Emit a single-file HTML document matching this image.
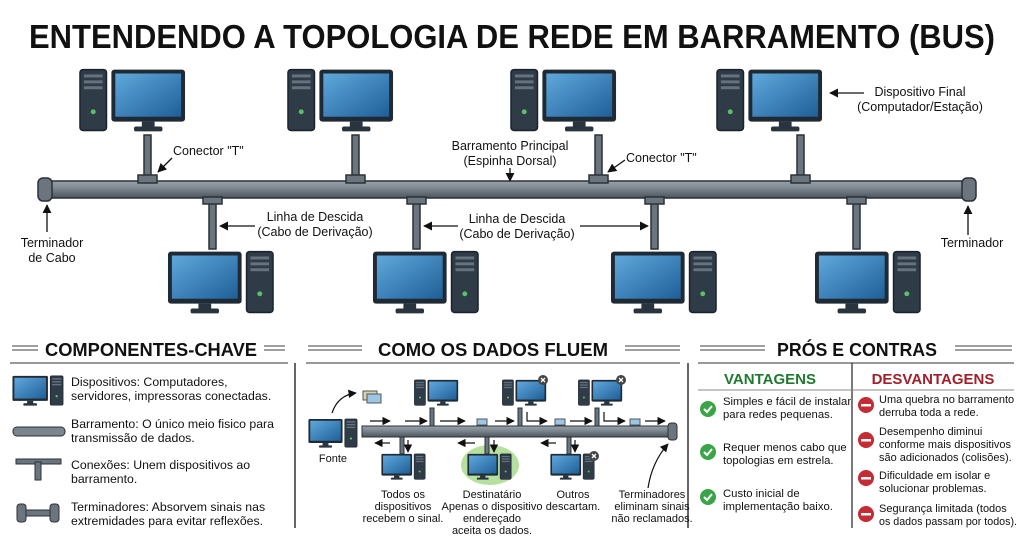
<!DOCTYPE html>
<html><head><meta charset="utf-8"><style>
html,body{margin:0;padding:0;background:#fff;}
svg{display:block;font-family:"Liberation Sans",sans-serif;}
</style></head><body>
<svg width="1024" height="540" viewBox="0 0 1024 540" xmlns="http://www.w3.org/2000/svg">
<defs>
<linearGradient id="scr" x1="0" y1="0" x2="1" y2="1"><stop offset="0" stop-color="#5fa8dc"/><stop offset="1" stop-color="#1f5f98"/></linearGradient>
<linearGradient id="bus" x1="0" y1="0" x2="0" y2="1"><stop offset="0" stop-color="#9aa3ab"/><stop offset=".45" stop-color="#7b858e"/><stop offset="1" stop-color="#4c545c"/></linearGradient>
<symbol id="pcL" viewBox="0 0 110 66">
<rect x="1" y="1" width="27" height="62" rx="3" fill="#2f3b47" stroke="#1a232c" stroke-width="1.5"/>
<rect x="5" y="6" width="19" height="3" fill="#66737f"/><rect x="5" y="12" width="19" height="3" fill="#66737f"/><rect x="5" y="18" width="19" height="3" fill="#66737f"/>
<circle cx="14.5" cy="44" r="2.5" fill="#5cbf6a"/>
<rect x="33" y="1" width="75" height="53" rx="3" fill="#1f2a35"/>
<rect x="37" y="5" width="67" height="44" fill="url(#scr)"/>
<rect x="64" y="54" width="13" height="6" fill="#2a343e"/><rect x="56" y="59" width="29" height="5" rx="2" fill="#2a343e"/>
</symbol>
<symbol id="pcR" viewBox="0 0 110 66">
<rect x="81" y="1" width="27" height="62" rx="3" fill="#2f3b47" stroke="#1a232c" stroke-width="1.5"/>
<rect x="85" y="6" width="19" height="3" fill="#66737f"/><rect x="85" y="12" width="19" height="3" fill="#66737f"/><rect x="85" y="18" width="19" height="3" fill="#66737f"/>
<circle cx="94.5" cy="44" r="2.5" fill="#5cbf6a"/>
<rect x="1" y="1" width="75" height="53" rx="3" fill="#1f2a35"/>
<rect x="5" y="5" width="67" height="44" fill="url(#scr)"/>
<rect x="32" y="54" width="13" height="6" fill="#2a343e"/><rect x="24" y="59" width="29" height="5" rx="2" fill="#2a343e"/>
</symbol>
<marker id="ar" viewBox="0 0 10 10" refX="9" refY="5" markerWidth="7" markerHeight="7" orient="auto"><path d="M0,0L10,5L0,10z" fill="#111"/></marker>
</defs>

<text x="512" y="48" text-anchor="middle" font-size="33" font-weight="bold" fill="#111" textLength="966" lengthAdjust="spacingAndGlyphs">ENTENDENDO A TOPOLOGIA DE REDE EM BARRAMENTO (BUS)</text>

<g fill="#6c757e" stroke="#2a3138" stroke-width="1.5">
<rect x="144" y="135" width="7" height="45"/>
<rect x="352" y="135" width="7" height="45"/>
<rect x="595" y="135" width="7" height="45"/>
<rect x="797" y="135" width="7" height="45"/>
<rect x="209" y="199" width="7" height="50"/>
<rect x="413" y="199" width="7" height="50"/>
<rect x="651" y="199" width="7" height="50"/>
<rect x="853" y="199" width="7" height="50"/>
</g>
<rect x="48" y="181" width="920" height="17" fill="url(#bus)" stroke="#2a3138" stroke-width="1.5"/>
<rect x="38" y="178" width="14" height="23" rx="5" fill="#6c757e" stroke="#2a3138" stroke-width="1.5"/>
<rect x="962" y="178" width="14" height="23" rx="5" fill="#6c757e" stroke="#2a3138" stroke-width="1.5"/>
<g fill="#6c757e" stroke="#2a3138" stroke-width="1.5">
<rect x="138" y="175" width="19" height="8"/><rect x="346" y="175" width="19" height="8"/><rect x="589" y="175" width="19" height="8"/><rect x="791" y="175" width="19" height="8"/>
<rect x="203" y="197" width="19" height="7"/><rect x="407" y="197" width="19" height="7"/><rect x="645" y="197" width="19" height="7"/><rect x="847" y="197" width="19" height="7"/>
</g>
<use href="#pcL" x="79" y="68" width="108" height="66"/>
<use href="#pcL" x="287" y="68" width="108" height="66"/>
<use href="#pcL" x="510" y="68" width="108" height="66"/>
<use href="#pcL" x="716" y="68" width="108" height="66"/>
<use href="#pcR" x="167" y="250" width="108" height="66"/>
<use href="#pcR" x="372" y="250" width="108" height="66"/>
<use href="#pcR" x="610" y="250" width="108" height="66"/>
<use href="#pcR" x="814" y="250" width="108" height="66"/>

<g font-size="12.5" fill="#111">
<text x="173" y="155">Conector "T"</text>
<text x="626" y="162">Conector "T"</text>
<text x="510" y="150" text-anchor="middle">Barramento Principal</text>
<text x="510" y="165" text-anchor="middle">(Espinha Dorsal)</text>
<text x="315" y="221" text-anchor="middle">Linha de Descida</text>
<text x="315" y="236" text-anchor="middle">(Cabo de Derivação)</text>
<text x="517" y="223" text-anchor="middle">Linha de Descida</text>
<text x="517" y="238" text-anchor="middle">(Cabo de Derivação)</text>
<text x="920" y="96" text-anchor="middle">Dispositivo Final</text>
<text x="920" y="111" text-anchor="middle">(Computador/Estação)</text>
<text x="52" y="247" text-anchor="middle">Terminador</text>
<text x="52" y="262" text-anchor="middle">de Cabo</text>
<text x="972" y="247" text-anchor="middle">Terminador</text>
</g>
<g stroke="#111" stroke-width="1.3" fill="none" marker-end="url(#ar)">
<line x1="172" y1="158" x2="158" y2="172"/>
<line x1="625" y1="160" x2="608" y2="172"/>
<line x1="510" y1="168" x2="510" y2="181"/>
<line x1="255" y1="226" x2="220" y2="226"/>
<line x1="458" y1="226" x2="424" y2="226"/>
<line x1="580" y1="226" x2="648" y2="226"/>
<line x1="864" y1="93" x2="830" y2="93"/>
<line x1="47" y1="232" x2="47" y2="205"/>
<line x1="968" y1="235" x2="968" y2="206"/>
</g>

<g font-weight="bold" fill="#111">
<text x="151" y="356" text-anchor="middle" font-size="18" textLength="212" lengthAdjust="spacingAndGlyphs">COMPONENTES-CHAVE</text>
<text x="493" y="356" text-anchor="middle" font-size="18" textLength="230" lengthAdjust="spacingAndGlyphs">COMO OS DADOS FLUEM</text>
<text x="857" y="356" text-anchor="middle" font-size="18" textLength="160" lengthAdjust="spacingAndGlyphs">PRÓS E CONTRAS</text>
</g>
<g stroke="#666" stroke-width="1.2">
<line x1="12" y1="346" x2="38" y2="346"/><line x1="12" y1="350" x2="38" y2="350"/>
<line x1="264" y1="346" x2="285" y2="346"/><line x1="264" y1="350" x2="285" y2="350"/>
<line x1="308" y1="346" x2="362" y2="346"/><line x1="308" y1="350" x2="362" y2="350"/>
<line x1="625" y1="346" x2="680" y2="346"/><line x1="625" y1="350" x2="680" y2="350"/>
<line x1="700" y1="346" x2="765" y2="346"/><line x1="700" y1="350" x2="765" y2="350"/>
<line x1="955" y1="346" x2="1012" y2="346"/><line x1="955" y1="350" x2="1012" y2="350"/>
</g>
<g stroke="#777" stroke-width="1.5">
<line x1="10" y1="363" x2="288" y2="363"/>
<line x1="306" y1="363" x2="680" y2="363"/>
<line x1="698" y1="363" x2="1014" y2="363"/>
</g>
<line x1="295" y1="363" x2="295" y2="528" stroke="#333" stroke-width="1.5"/>
<line x1="688" y1="363" x2="688" y2="528" stroke="#333" stroke-width="1.5"/>
<line x1="852" y1="363" x2="852" y2="528" stroke="#333" stroke-width="1.3"/>

<use href="#pcR" x="12" y="375" width="52" height="32"/>
<rect x="13" y="427" width="52" height="9" rx="4" fill="#7b858e" stroke="#2a3138"/>
<g fill="#6c757e" stroke="#2a3138"><rect x="16" y="459" width="45" height="5"/><rect x="35" y="462" width="6" height="18"/></g>
<g fill="#6c757e" stroke="#2a3138"><rect x="17" y="504" width="9" height="18" rx="3"/><rect x="26" y="510" width="24" height="6"/><rect x="50" y="504" width="9" height="18" rx="3"/></g>
<g font-size="12.3" fill="#111">
<text x="71" y="386">Dispositivos: Computadores,</text>
<text x="71" y="400">servidores, impressoras conectadas.</text>
<text x="71" y="428">Barramento: O único meio fisico para</text>
<text x="71" y="442">transmissão de dados.</text>
<text x="71" y="469">Conexões: Unem dispositivos ao</text>
<text x="71" y="483">barramento.</text>
<text x="71" y="511">Terminadores: Absorvem sinais nas</text>
<text x="71" y="525">extremidades para evitar reflexões.</text>
</g>

<ellipse cx="490" cy="465" rx="29" ry="20" fill="#b6e0a0"/>
<g fill="#6c757e" stroke="#2a3138">
<rect x="430" y="408" width="4" height="20"/><rect x="518" y="408" width="4" height="20"/><rect x="595" y="408" width="4" height="20"/>
<rect x="400" y="436" width="4" height="18"/><rect x="485" y="436" width="4" height="18"/><rect x="567" y="436" width="4" height="18"/>
</g>
<rect x="362" y="426" width="310" height="11" fill="url(#bus)" stroke="#2a3138"/>
<rect x="668" y="423" width="9" height="17" rx="3" fill="#6c757e" stroke="#2a3138"/>
<use href="#pcL" x="414" y="379" width="45" height="28"/>
<use href="#pcL" x="502" y="379" width="45" height="28"/>
<use href="#pcL" x="578" y="379" width="45" height="28"/>
<use href="#pcR" x="308" y="418" width="50" height="31"/>
<use href="#pcR" x="381" y="453" width="45" height="28"/>
<use href="#pcR" x="467" y="453" width="45" height="28"/>
<use href="#pcR" x="550" y="453" width="45" height="28"/>
<g fill="#444"><circle cx="543" cy="380" r="5"/><circle cx="621" cy="380" r="5"/><circle cx="594" cy="456" r="5"/></g>
<g stroke="#fff" stroke-width="1.3"><path d="M541,378l4,4M545,378l-4,4M619,378l4,4M623,378l-4,4M592,454l4,4M596,454l-4,4"/></g>
<rect x="363" y="391" width="14" height="9" fill="#d8d0b0" stroke="#555"/><rect x="367" y="394" width="14" height="9" fill="#9cc6e6" stroke="#555"/>
<g fill="#9cc6e6" stroke="#555"><rect x="477" y="419" width="10" height="6"/><rect x="555" y="419" width="10" height="6"/><rect x="630" y="419" width="10" height="6"/></g>
<g stroke="#111" stroke-width="1.2" marker-end="url(#ar)" fill="none">
<path d="M332,413 Q338,395 356,393"/>
<line x1="370" y1="421" x2="390" y2="421"/><line x1="405" y1="421" x2="427" y2="421"/><line x1="440" y1="421" x2="465" y2="421"/><line x1="495" y1="421" x2="514" y2="421"/>
<path d="M527,412V421H547"/><line x1="570" y1="421" x2="592" y2="421"/><path d="M604,412V421H625"/><line x1="645" y1="421" x2="665" y2="421"/>
<line x1="390" y1="443" x2="375" y2="443"/><line x1="475" y1="443" x2="458" y2="443"/><line x1="556" y1="443" x2="541" y2="443"/>
<line x1="408" y1="440" x2="408" y2="452"/><line x1="494" y1="440" x2="494" y2="452"/><line x1="575" y1="440" x2="575" y2="452"/>
<path d="M648,488 Q652,462 668,444"/>
</g>
<g font-size="11" fill="#111" text-anchor="middle">
<text x="333" y="462">Fonte</text>
<text x="403" y="498">Todos os</text><text x="403" y="510">dispositivos</text><text x="403" y="522">recebem o sinal.</text>
<text x="492" y="498">Destinatário</text><text x="492" y="510">Apenas o dispositivo</text><text x="492" y="522">endereçado</text><text x="492" y="534">aceita os dados.</text>
<text x="573" y="498">Outros</text><text x="573" y="510">descartam.</text>
<text x="652" y="498">Terminadores</text><text x="652" y="510">eliminam sinais</text><text x="652" y="522">não reclamados.</text>
</g>

<text x="770" y="384" text-anchor="middle" font-size="15" font-weight="bold" fill="#1e7a2e">VANTAGENS</text>
<text x="933" y="384" text-anchor="middle" font-size="15" font-weight="bold" fill="#a3202a">DESVANTAGENS</text>
<line x1="698" y1="390" x2="1014" y2="390" stroke="#888"/>
<g fill="#3aa548"><circle cx="708" cy="409" r="8"/><circle cx="708" cy="452" r="8"/><circle cx="708" cy="497" r="8"/></g>
<g stroke="#fff" stroke-width="2" fill="none"><path d="M704,409l3,3l5,-6M704,452l3,3l5,-6M704,497l3,3l5,-6"/></g>
<g fill="#c42b32"><circle cx="866" cy="405" r="8"/><circle cx="866" cy="440" r="8"/><circle cx="866" cy="478" r="8"/><circle cx="866" cy="514" r="8"/></g>
<g fill="#fff"><rect x="861" y="404" width="10" height="2.5"/><rect x="861" y="439" width="10" height="2.5"/><rect x="861" y="477" width="10" height="2.5"/><rect x="861" y="513" width="10" height="2.5"/></g>
<g font-size="11.3" fill="#111">
<text x="723" y="405">Simples e fácil de instalar</text><text x="723" y="418">para redes pequenas.</text>
<text x="723" y="451">Requer menos cabo que</text><text x="723" y="464">topologias em estrela.</text>
<text x="723" y="497">Custo inicial de</text><text x="723" y="510">implementação baixo.</text>
</g>
<g font-size="11" fill="#111">
<text x="879" y="403">Uma quebra no barramento</text><text x="879" y="416">derruba toda a rede.</text>
<text x="879" y="435">Desempenho diminui</text><text x="879" y="448">conforme mais dispositivos</text><text x="879" y="461">são adicionados (colisões).</text>
<text x="879" y="479">Dificuldade em isolar e</text><text x="879" y="492">solucionar problemas.</text>
<text x="879" y="512">Segurança limitada (todos</text><text x="879" y="525" textLength="138" lengthAdjust="spacingAndGlyphs">os dados passam por todos).</text>
</g>
</svg>
</body></html>
